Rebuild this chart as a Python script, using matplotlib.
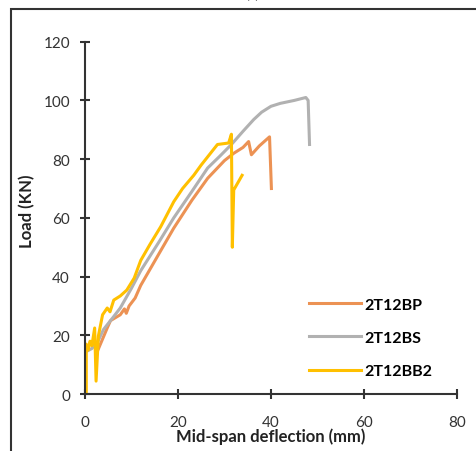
import matplotlib
matplotlib.use('Agg')
import matplotlib.pyplot as plt
import matplotlib.patches as patches

# Datos (deflexion en mm, carga en KN)
bp_x = [2.8, 4.8, 5.5, 7.6, 8.5, 8.9, 9.5, 10.8, 12, 16, 19.1, 23, 26.4, 30, 32, 34, 35.2, 35.8, 37.5, 39.7, 40.1]
bp_y = [15, 22.5, 25, 27, 29, 27.5, 30, 32.7, 37, 48, 56.5, 66, 73.5, 79.5, 82, 84, 86, 81.5, 84.5, 87.6, 70]

bs_x = [0.3, 1.5, 2.8, 4, 6, 7.6, 10, 12, 16, 19.1, 23, 26.4, 29, 31.5, 34, 36.3, 38, 40, 42, 45, 47.5, 48, 48.3]
bs_y = [14.5, 15.5, 18, 22, 26, 29.3, 36, 42, 52, 60, 69, 77, 81, 85, 89.5, 93.5, 96, 98, 99, 100, 101, 100, 85]

bb2_x = [0.3, 0.3, 0.7, 1.1, 1.5, 2.1, 2.4, 2.9, 3.8, 4.8, 5.4, 6.2, 7.6, 9, 10.6, 12, 14, 16.3, 19.1, 21, 23.4, 25, 27, 28.5, 30.9, 31.5, 31.7, 32.0, 33.8]
bb2_y = [0, 17, 15, 18, 16.5, 22.5, 4.4, 19.8, 27, 29.3, 28, 32, 33.4, 35.4, 39.5, 45.5, 51, 57, 65.5, 70, 74.5, 78, 82, 85, 85.5, 88.5, 50, 69.5, 74.5]

series = [
    ('2T12BP', bp_x, bp_y, '#EC9254'),
    ('2T12BS', bs_x, bs_y, '#B1B1B1'),
    ('2T12BB2', bb2_x, bb2_y, '#FFC000'),
]

plt.rcParams['font.family'] = ['Lato', 'DejaVu Sans']

fig = plt.figure(figsize=(4.77, 4.52), dpi=100)
ax = fig.add_axes([0.178, 0.126, 0.78, 0.7795])

for nombre, xs, ys, color in series:
    ax.plot(xs, ys, color=color, lw=2.2, label=nombre, solid_joinstyle='round')

ax.set_xlim(0, 80)
ax.set_ylim(0, 120)
ax.set_xticks([0, 20, 40, 60, 80])
ax.set_yticks([0, 20, 40, 60, 80, 100, 120])

for lado in ['top', 'right']:
    ax.spines[lado].set_visible(False)
for lado in ['left', 'bottom']:
    ax.spines[lado].set_linewidth(1.5)
    ax.spines[lado].set_color('#333333')

ax.tick_params(direction='inout', length=7.5, width=1.5, color='#333333',
               labelsize=11, labelcolor='#333333')
ax.tick_params(axis='x', pad=11)
ax.tick_params(axis='y', pad=7)

ax.set_xlabel('Mid-span deflection (mm)', fontsize=12, fontweight='bold', color='#222222', labelpad=-1)
ax.set_ylabel('Load (KN)', fontsize=12, fontweight='bold', color='#222222')
ax.yaxis.set_label_coords(-0.134, 0.522)

ax.legend(loc='upper left', bbox_to_anchor=(0.582, 0.297), frameon=False,
          handlelength=3.25, handletextpad=0.2, labelspacing=1.2, borderpad=0,
          prop={'weight': 'bold', 'size': 11.5})

# Marco exterior (recortado a la derecha y abajo)
fig.add_artist(patches.Rectangle((0.023, -0.1), 1.2, 1.078, transform=fig.transFigure,
                                 fill=False, edgecolor='#333333', lw=1.5, clip_on=False))
fig.text(0.53, 1.012, '(c)', ha='center', va='center', fontsize=10, color='#555555')

fig.savefig('out.png', dpi=100)
